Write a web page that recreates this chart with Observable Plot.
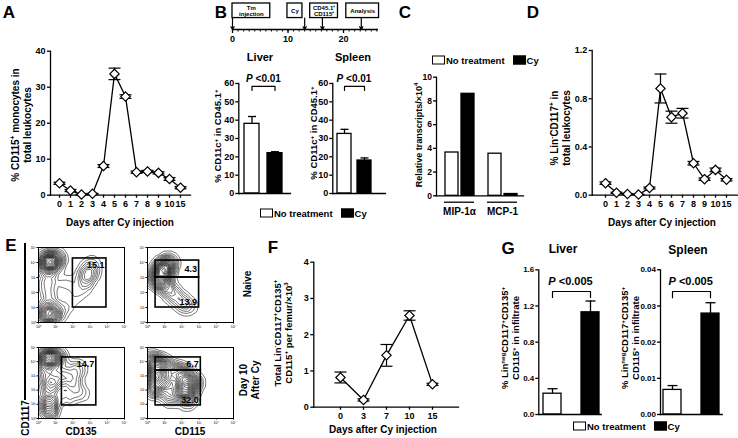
<!DOCTYPE html>
<html><head><meta charset="utf-8">
<script src="https://cdn.jsdelivr.net/npm/d3@7"></script>
<script src="https://cdn.jsdelivr.net/npm/@observablehq/plot@0.6"></script>
<style>
html,body{margin:0;padding:0;background:#fff;}
#root{position:relative;width:738px;height:438px;overflow:hidden;background:#fff;font-family:'Liberation Sans',Arial,sans-serif;color:#000;}
#root sup{font-size:65%;line-height:0;vertical-align:0.55em;}
.lg{position:absolute;display:flex;align-items:center;font:bold 9.5px 'Liberation Sans',Arial,sans-serif;white-space:nowrap;transform:translateY(-50%);}
.sw{display:inline-block;width:13px;height:9px;border:1.3px solid #000;box-sizing:border-box;margin-right:1px;}
</style></head><body><div id="root"></div>
<script>
// ---------------- data ----------------
// A
const daysA = ["0","1","2","3","4","5","6","7","8","9","10","15"];
const monoA = [3.3,1.3,0.2,0.4,8.1,33.7,27.4,6.4,6.6,6.2,4.5,2.1];
const monoA_se = [0.3,0.3,0.1,0.1,0.4,1.6,0.5,0.3,0.3,0.3,0.4,0.3];
// B timeline
const tlLabels = ["Tm\ninjection","Cy","CD45.1⁺\nCD115⁺","Analysis"];
const tlStart = [0,9.9,14,20.5];
const tlEnd = [6.8,12.6,19,26.4];
const tlArrows = [0,13,16.2,23.2];
const tlTicks = [0,10,20];
// B bars
const groups = ["No treatment","Cy"];
const liverB = [38,22], liverB_se = [4,0.8];
const spleenB = [32.5,18], spleenB_se = [2.5,1.4];
// C
const genesC = ["MIP-1α","MCP-1"];
const noTxC = [3.65,3.55];
const cyC = [8.6,0.15];
// D
const linD = [0.10,0.02,0.01,0.005,0.06,0.885,0.647,0.68,0.265,0.133,0.21,0.128];
const linD_se = [0.01,0.005,0.003,0.003,0.008,0.12,0.05,0.04,0.015,0.01,0.015,0.01];
// E (decades of fluorescence, 10^0..10^5)
const gatesNaive135 = [{x1:2.0,x2:3.95,y1:1.0,y2:4.27,pct:"15.1",at:"top"}];
const gatesNaive115 = [{x1:0.47,x2:3.0,y1:3.0,y2:4.13,pct:"4.3",at:"mid"},{x1:0.47,x2:3.0,y1:1.0,y2:3.0,pct:"13.9",at:"bottom"}];
const gatesDay10135 = [{x1:1.36,x2:3.36,y1:0.92,y2:4.3,pct:"14.7",at:"top"}];
const gatesDay10115 = [{x1:0.47,x2:3.1,y1:3.38,y2:4.3,pct:"6.7",at:"mid"},{x1:0.47,x2:3.1,y1:0.92,y2:3.38,pct:"32.0",at:"bottom"}];
const popNaive135 = [[0.7,4.1,10],[0.4,4.0,6],[1.1,4.2,4],[0.6,3.2,3],[0.5,2.4,3],[0.6,1.5,3],[0.5,0.6,9],[0.9,0.5,5],[1.5,1.0,2],[1.6,2.6,2],[2.9,3.3,5],[2.7,2.6,3],[3.1,3.9,2],[2.2,1.8,1.5]];
const popNaive115 = [[0.9,3.5,10],[1.2,3.9,6],[0.7,2.8,6],[1.1,2.3,4],[1.6,1.8,3],[2.0,1.3,2],[2.4,1.1,2],[0.5,3.1,3]];
const popDay10135 = [[0.5,4.3,10],[1.0,4.3,7],[0.5,3.3,5],[0.7,2.4,5],[1.3,3.0,4],[0.6,1.2,5],[0.6,0.5,5],[2.0,2.6,3],[2.4,1.8,2],[2.2,3.5,3],[1.6,1.5,2]];
const popDay10115 = [[0.3,4.0,6],[0.5,3.2,8],[0.4,2.2,6],[1.0,2.6,6],[1.5,3.3,5],[2.1,3.0,7],[2.1,2.1,8],[2.6,2.5,6],[2.3,1.4,5],[1.3,1.6,4],[0.8,3.8,5]];
const decTicks = [0,1,2,3,4,5];
// F
const daysF = ["0","3","7","10","15"];
const totF = [0.82,0.2,1.43,2.53,0.63];
const totF_se = [0.15,0.03,0.3,0.13,0.03];
// G
const liverG = [0.23,1.13], liverG_se = [0.055,0.125];
const spleenG = [0.0068,0.0279], spleenG_se = [0.0012,0.0030];

// ---------------- helpers ----------------
const FONT = "'Liberation Sans', Arial, Helvetica, sans-serif";
const root = document.getElementById("root");
const baseStyle = {fontFamily: FONT, fontWeight: "bold", fontSize: "9px", background: "transparent", overflow: "visible", color: "#000"};
const AX = 1.3;
const fills = ["#fff","#000"];
function place(el, left, top){ el.style.position="absolute"; el.style.left=left+"px"; el.style.top=top+"px"; el.style.overflow="visible"; root.appendChild(el); return el; }
function txt(html, x, y, o={}){
  const {size=10, rot=false, anchor="middle", lh=1.2} = o;
  const d = document.createElement("div"); d.innerHTML = html;
  const tx = anchor==="middle" ? "-50%" : anchor==="end" ? "-100%" : "0";
  d.style.cssText = `position:absolute;left:${x}px;top:${y}px;font:bold ${size}px ${FONT};line-height:${lh};white-space:nowrap;text-align:center;transform:translate(${tx},-50%)${rot?" rotate(-90deg)":""};`;
  root.appendChild(d); return d;
}
function legend(x, y, gap){
  const d = document.createElement("div"); d.className="lg"; d.style.left=x+"px"; d.style.top=y+"px";
  groups.forEach((l,i)=>{ const s=document.createElement("span"); s.className="sw"; s.style.background=fills[i]; if(i) s.style.marginLeft=gap+"px"; d.appendChild(s); d.appendChild(document.createTextNode(l)); });
  root.appendChild(d);
}
const cap = {draw(ctx, size){ const w=Math.sqrt(size/Math.PI); ctx.moveTo(-w,0); ctx.lineTo(w,0); }};

function linePlot(o){
  const data = o.xs.map((x,i)=>({x, v:o.vals[i], e:o.se[i]}));
  const svg = Plot.plot({
    width:o.width, height:o.height, marginLeft:o.mL, marginRight:o.mR, marginTop:o.mT, marginBottom:o.mB,
    style: baseStyle,
    x:{type:"point", domain:o.xs, range:o.xRange, label:null},
    y:{domain:o.yDomain, label:null},
    marks:[
      Plot.frame({anchor:"left", strokeWidth:AX}),
      Plot.frame({anchor:"bottom", strokeWidth:AX}),
      Plot.axisY({ticks:o.yTicks, tickFormat:o.yFmt, tickSize:3, tickPadding:2, strokeWidth:AX, label:null}),
      Plot.axisX({tickSize:3, tickPadding:2, strokeWidth:AX, label:null}),
      Plot.line(data,{x:"x", y:"v", stroke:"#000", strokeWidth:1.3}),
      Plot.ruleX(data,{x:"x", y1:d=>d.v-d.e, y2:d=>d.v+d.e, stroke:"#000", strokeWidth:1.2}),
      Plot.dot(data,{x:"x", y:d=>d.v+d.e, symbol:cap, r:o.capR, stroke:"#000", strokeWidth:1.2}),
      Plot.dot(data,{x:"x", y:d=>d.v-d.e, symbol:cap, r:o.capR, stroke:"#000", strokeWidth:1.2}),
      Plot.dot(data,{x:"x", y:"v", symbol:"diamond2", r:o.r, fill:"#fff", stroke:"#000", strokeWidth:1.2})
    ]
  });
  return place(svg, o.left, o.top);
}

function barPlot(o){
  const data = groups.map((g,i)=>({g, v:o.vals[i], e:o.se[i]}));
  const [lo, hi] = o.bracket;
  const br = [{g:groups[0],y:lo},{g:groups[0],y:hi},{g:groups[1],y:hi},{g:groups[1],y:lo}];
  const svg = Plot.plot({
    width:o.width, height:o.height, marginLeft:o.mL, marginRight:o.mR, marginTop:o.mT, marginBottom:o.mB,
    style: {...baseStyle, fontSize:(o.tickFont||9)+"px"},
    x:{type:"band", domain:groups, range:o.xRange, paddingInner:o.pI, paddingOuter:o.pO, align:0.5, axis:null, label:null},
    y:{domain:o.yDomain, label:null},
    color:{domain:groups, range:fills},
    marks:[
      Plot.barY(data,{x:"g", y:"v", fill:"g", stroke:"#000", strokeWidth:1.3}),
      Plot.frame({anchor:"left", strokeWidth:AX}),
      Plot.frame({anchor:"bottom", strokeWidth:AX}),
      Plot.axisY({ticks:o.yTicks, tickFormat:o.yFmt, tickSize:3, tickPadding:1.5, strokeWidth:AX, label:null}),
      Plot.ruleX(data,{x:"g", y1:"v", y2:d=>d.v+d.e, stroke:"#000", strokeWidth:1.3}),
      Plot.dot(data,{x:"g", y:d=>d.v+d.e, symbol:cap, r:o.capR, stroke:"#000", strokeWidth:1.3}),
      Plot.line(br,{x:"g", y:"y", stroke:"#000", strokeWidth:1.2})
    ]
  });
  return place(svg, o.left, o.top);
}

const supDigits = "⁰¹²³⁴⁵";
function flowPlot(left, top, height, mT, mB, pts, gates){
  const svg = Plot.plot({
    width:100, height, marginLeft:10, marginRight:4, marginTop:mT, marginBottom:mB,
    style:{...baseStyle, fontSize:"3.5px", fontWeight:"normal"},
    x:{domain:[0,5], label:null}, y:{domain:[0,5], label:null},
    marks:[
      Plot.density(pts,{x:d=>d[0], y:d=>d[1], weight:d=>d[2], bandwidth:4.5, thresholds:22, stroke:"#000", strokeWidth:0.55, clip:true}),
      Plot.frame({stroke:"#000", strokeWidth:1}),
      Plot.axisX({ticks:decTicks, tickSize:1.5, tickPadding:1, tickFormat:d=>"10"+supDigits[d], label:null}),
      Plot.axisY({ticks:decTicks, tickSize:1.5, tickPadding:1, tickFormat:d=>"10"+supDigits[d], label:null}),
      Plot.rect(gates,{x1:"x1", x2:"x2", y1:"y1", y2:"y2", fill:"none", stroke:"#000", strokeWidth:1.6}),
      Plot.text(gates.filter(g=>g.at==="top"),{x:"x2", y:"y2", text:"pct", textAnchor:"end", dx:-2, dy:7, fontSize:9, fontWeight:"bold"}),
      Plot.text(gates.filter(g=>g.at==="mid"),{x:"x2", y:d=>(d.y1+d.y2)/2, text:"pct", textAnchor:"end", dx:-2, fontSize:9, fontWeight:"bold"}),
      Plot.text(gates.filter(g=>g.at==="bottom"),{x:"x2", y:"y1", text:"pct", textAnchor:"end", dx:-2, dy:-5, fontSize:9, fontWeight:"bold"})
    ]
  });
  return place(svg, left, top);
}

// ---------------- Panel A ----------------
linePlot({left:0, top:0, width:200, height:215, mL:50, mR:10, mT:50.7, mB:20.3, xs:daysA, xRange:[52.7,185.3],
  yDomain:[0,40], yTicks:[0,10,20,30,40], yFmt:d=>String(d), vals:monoA, se:monoA_se, capR:6, r:4.2});
txt("A", 9, 13, {size:17});
txt("% CD115<sup>+</sup> monocytes in<br>total leukocytes", 22, 125, {size:10, rot:true});
txt("Days after Cy injection", 120, 223, {size:10});

// ---------------- Panel B ----------------
{
  const steps = tlLabels.map((t,i)=>({t, s:tlStart[i], e:tlEnd[i]}));
  const svg = Plot.plot({
    width:160, height:50, marginLeft:7, marginRight:7, marginTop:3, marginBottom:21,
    style: baseStyle,
    x:{domain:[0,26.3], label:null},
    y:{domain:[0,1], axis:null, label:null},
    marks:[
      Plot.rect(steps,{x1:"s", x2:"e", y1:0.44, y2:1, fill:"#fff", stroke:"#000", strokeWidth:1.3}),
      Plot.text(steps,{x:d=>(d.s+d.e)/2, y:0.72, text:"t", fontSize:6, lineHeight:1.05, fontWeight:"bold"}),
      Plot.arrow(tlArrows,{x1:d=>d, x2:d=>d, y1:0.44, y2:0, headLength:4, strokeWidth:1.2, stroke:"#000"}),
      Plot.ruleY([0],{strokeWidth:AX}),
      Plot.axisX({ticks:d3.range(0,27), tickSize:2.5, tickFormat:()=>"", strokeWidth:1, label:null}),
      Plot.axisX({ticks:tlTicks, tickSize:4, tickPadding:2, strokeWidth:AX, label:null})
    ]
  });
  place(svg, 225, 0);
}
txt("B", 221, 13, {size:17});
barPlot({left:225, top:50, width:70, height:160, mL:13.3, mR:5, mT:33, mB:17, xRange:[15.3,61.1], pI:0.33, pO:0.16,
  yDomain:[0,60], yTicks:[0,10,20,30,40,50,60], yFmt:d=>String(d), vals:liverB, se:liverB_se, capR:4, bracket:[56.2,58.4]});
barPlot({left:320, top:50, width:70, height:160, mL:12.3, mR:5, mT:33, mB:17, xRange:[12.6,54.8], pI:0.31, pO:0.16,
  yDomain:[0,60], yTicks:[0,10,20,30,40,50,60], yFmt:d=>String(d), vals:spleenB, se:spleenB_se, capR:4, bracket:[56.2,58.4]});
txt("Liver", 260, 58, {size:11});
txt("Spleen", 353, 58, {size:11});
txt("% CD11c<sup>+</sup> in CD45.1<sup>+</sup>", 218, 136, {size:9.5, rot:true});
txt("% CD11c<sup>+</sup> in CD45.1<sup>+</sup>", 314, 133, {size:9.5, rot:true});
txt("<i>P</i> &lt;0.01", 263.5, 79, {size:10});
txt("<i>P</i> &lt;0.01", 354, 79, {size:10});
legend(260, 213, 8);

// ---------------- Panel C ----------------
{
  const cData = genesC.flatMap((gene,i)=>[{gene, g:groups[0], v:noTxC[i]},{gene, g:groups[1], v:cyC[i]}]);
  const common = {width:135, height:185, marginLeft:36, marginRight:12, marginTop:36.7, marginBottom:29.7, style:baseStyle};
  const bars = Plot.plot({...common,
    fx:{domain:genesC, range:[29.9,130.1], paddingInner:0.309, paddingOuter:0.309, axis:"bottom", tickSize:0, tickPadding:12, label:null},
    x:{domain:groups, paddingInner:0.2, paddingOuter:0, axis:null, label:null},
    y:{domain:[0,10], axis:null, label:null},
    color:{domain:groups, range:fills},
    marks:[
      Plot.barY(cData,{fx:"gene", x:"g", y:"v", fill:"g", stroke:"#000", strokeWidth:1.3}),
      Plot.ruleY([-0.54],{strokeWidth:1.3})
    ]
  });
  bars.style.fontSize = "10px";
  place(bars, 400, 40);
  const axes = Plot.plot({...common,
    y:{domain:[0,10], label:null},
    marks:[
      Plot.frame({anchor:"left", strokeWidth:AX}),
      Plot.frame({anchor:"bottom", strokeWidth:AX}),
      Plot.axisY({ticks:[0,2,4,6,8,10], tickSize:3, tickPadding:1.5, strokeWidth:AX, label:null})
    ]
  });
  axes.style.fontSize = "8.5px";
  place(axes, 400, 40);
}
txt("C", 405, 13, {size:17});
txt("Relative transcripts/×10<sup>4</sup>", 419, 135, {size:9, rot:true});
legend(432, 60, 8);

// ---------------- Panel D ----------------
linePlot({left:525, top:0, width:213, height:215, mL:66.7, mR:1, mT:50, mB:20.3, xs:daysA, xRange:[74,206.7],
  yDomain:[0,1.2], yTicks:[0,0.4,0.8,1.2], yFmt:".1f", vals:linD, se:linD_se, capR:6, r:4.2});
txt("D", 533, 13, {size:17});
txt("% Lin<sup>-</sup>CD117<sup>+</sup> in<br>total leukocytes", 561, 128, {size:10, rot:true});
txt("Days after Cy injection", 662, 223, {size:10});

// ---------------- Panel E ----------------
flowPlot(28, 240, 90, 7, 8, popNaive135, gatesNaive135);
flowPlot(137, 240, 90, 7, 8, popNaive115, gatesNaive115);
flowPlot(28, 340, 85, 7, 7, popDay10135, gatesDay10135);
flowPlot(137, 340, 85, 7, 7, popDay10115, gatesDay10115);
txt("E", 11, 246, {size:17});
{ const ln=document.createElement("div"); ln.style.cssText="position:absolute;left:24px;top:243px;width:2px;height:157px;background:#000;"; root.appendChild(ln); }
txt("CD1117", 26, 418, {size:10, rot:true});
txt("CD135", 81, 432, {size:10});
txt("CD115", 190, 432, {size:10});
txt("Naive", 248, 284, {size:10, rot:true});
txt("Day 10<br>After Cy", 250, 380, {size:10, rot:true});

// ---------------- Panel F ----------------
linePlot({left:265, top:230, width:200, height:195, mL:48.3, mR:7, mT:31.7, mB:18.3, xs:daysF, xRange:[62.7,178.3],
  yDomain:[0,4], yTicks:[0,1,2,3,4], yFmt:d=>String(d), vals:totF, se:totF_se, capR:6, r:4.2});
txt("F", 273, 248, {size:17});
txt("Total Lin<sup>-</sup>CD117<sup>+</sup>CD135<sup>+</sup><br>CD115<sup>+</sup> per femur/×10<sup>3</sup>", 283, 333, {size:9.5, rot:true});
txt("Days after Cy injection", 383, 430, {size:10});

// ---------------- Panel G ----------------
barPlot({left:480, top:230, width:130, height:195, mL:58.3, mR:9.3, mT:39.3, mB:11, xRange:[58.9,122.4], pI:0.53, pO:0.1,
  yDomain:[0,1.6], yTicks:[0,0.4,0.8,1.2,1.6], yFmt:".1f", vals:liverG, se:liverG_se, capR:5, bracket:[1.294,1.36], tickFont:8});
barPlot({left:600, top:230, width:130, height:195, mL:60, mR:8.3, mT:39.3, mB:11, xRange:[58.9,122.4], pI:0.53, pO:0.1,
  yDomain:[0,0.04], yTicks:[0,0.01,0.02,0.03,0.04], yFmt:".2f", vals:spleenG, se:spleenG_se, capR:5, bracket:[0.0323,0.034], tickFont:8});
txt("G", 508, 249, {size:17});
txt("Liver", 563, 249, {size:12});
txt("Spleen", 688, 250, {size:12});
txt("% Lin<sup>neg</sup>CD117<sup>+</sup>CD135<sup>+</sup><br>CD115<sup>+</sup> in infiltrate", 511, 338, {size:9.5, rot:true, lh:1.15});
txt("% Lin<sup>neg</sup>CD117<sup>+</sup>CD135<sup>+</sup><br>CD115<sup>+</sup> in infiltrate", 631, 338, {size:9.5, rot:true, lh:1.15});
txt("<i>P</i> &lt;0.005", 570.5, 282, {size:11});
txt("<i>P</i> &lt;0.005", 690.7, 282, {size:11});
legend(573, 426, 8);
</script></body></html>
